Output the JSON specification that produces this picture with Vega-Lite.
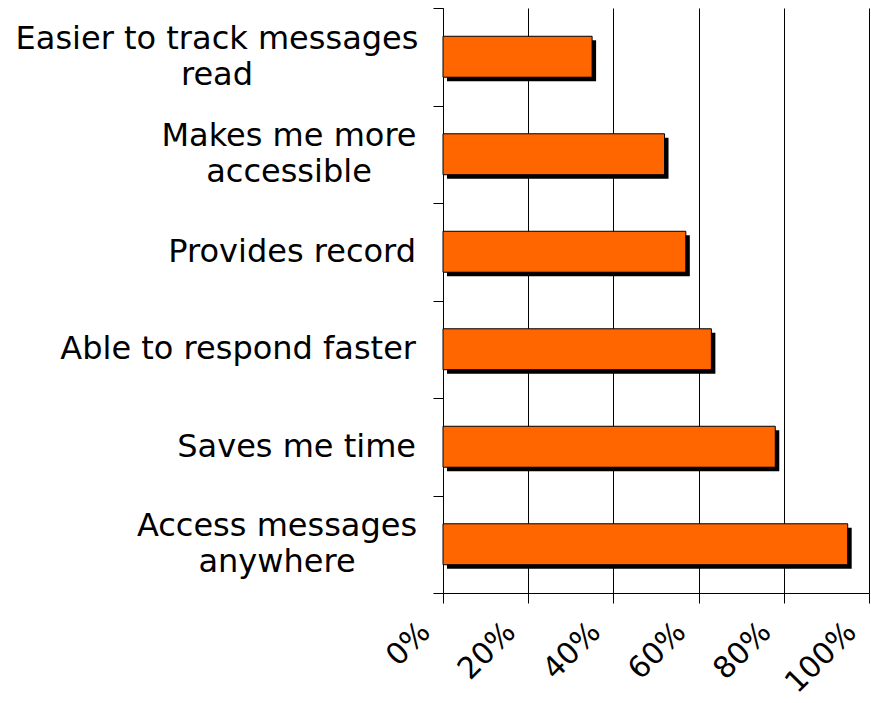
{
  "$schema": "https://vega.github.io/schema/vega-lite/v6.json",
  "width": 426,
  "height": 585,
  "autosize": "none",
  "padding": {"left": 443, "top": 8, "right": 2, "bottom": 110},
  "background": "white",
  "config": {"view": {"stroke": null}},
  "data": {
    "values": [
      {"reason": "Easier to track messages|read", "share": 0.35},
      {"reason": "Makes me more|accessible", "share": 0.52},
      {"reason": "Provides record", "share": 0.57},
      {"reason": "Able to respond faster", "share": 0.63},
      {"reason": "Saves me time", "share": 0.78},
      {"reason": "Access messages|anywhere", "share": 0.95}
    ]
  },
  "encoding": {
    "y": {
      "field": "reason",
      "type": "nominal",
      "sort": null,
      "scale": {"paddingInner": 0, "paddingOuter": 0},
      "axis": {
        "title": null,
        "labels": false,
        "tickBand": "extent",
        "tickSize": 10,
        "tickColor": "black",
        "tickWidth": 1,
        "domainColor": "black",
        "domainWidth": 1,
        "grid": false
      }
    },
    "x": {
      "field": "share",
      "type": "quantitative",
      "scale": {"domain": [0, 1]},
      "axis": {
        "title": null,
        "values": [0, 0.2, 0.4, 0.6, 0.8, 1],
        "format": ".0%",
        "labelFont": "DejaVu Sans",
        "labelFontSize": 30,
        "labelColor": "black",
        "labelAngle": -45,
        "labelAlign": "right",
        "labelBaseline": "middle",
        "labelPadding": 24,
        "labelOffset": -18,
        "labelFlush": false,
        "labelOverlap": false,
        "tickSize": 10,
        "tickColor": "black",
        "domainColor": "black",
        "grid": true,
        "gridColor": "black",
        "gridWidth": 1,
        "gridOpacity": 1
      }
    }
  },
  "layer": [
    {
      "mark": {"type": "bar", "color": "black", "height": {"band": 0.42}, "xOffset": 4, "x2Offset": 4, "yOffset": 4, "y2Offset": 4}
    },
    {
      "mark": {"type": "bar", "color": "#FF6600", "height": {"band": 0.42}, "stroke": "black", "strokeWidth": 1}
    },
    {
      "mark": {
        "type": "text",
        "font": "DejaVu Sans",
        "fontSize": 32,
        "lineHeight": 36,
        "lineBreak": "|",
        "color": "black",
        "baseline": "middle",
        "align": {"expr": "indexof(datum.reason, '|') >= 0 ? 'center' : 'right'"},
        "dx": {"expr": "datum.reason == 'Easier to track messages|read' ? -226 : datum.reason == 'Makes me more|accessible' ? -154 : datum.reason == 'Access messages|anywhere' ? -166 : -27"},
        "dy": {"expr": "indexof(datum.reason, '|') >= 0 ? -18 : 0"}
      },
      "encoding": {
        "x": {"datum": 0, "type": "quantitative"},
        "text": {"field": "reason"}
      }
    }
  ]
}
